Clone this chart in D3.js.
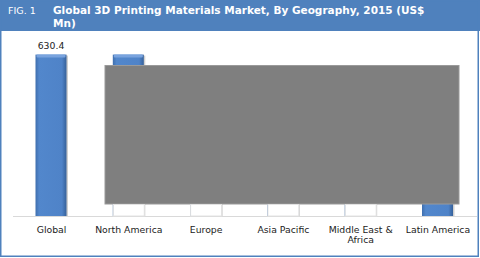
<!DOCTYPE html>
<html><head><meta charset="utf-8">
<script src="https://cdn.jsdelivr.net/npm/d3@7"></script>
<style>html,body{margin:0;padding:0;background:#fff;}svg{display:block;}</style>
</head><body>
<svg id="c" width="480" height="258"></svg>
<script>
const categories = ["Global","North America","Europe","Asia Pacific","Middle East & Africa","Latin America"];
const tickLabels = [["Global"],["North America"],["Europe"],["Asia Pacific"],["Middle East &","Africa"],["Latin America"]];
const values = [630.4, 630.4, 180, 150, 60, 70];
const valueLabels = ["630.4", null, null, null, null, null];
const masked = ["North America","Europe","Asia Pacific","Middle East & Africa"];
const titleLines = ["Global 3D Printing Materials Market, By Geography, 2015 (US$","Mn)"];
const figLabel = "FIG. 1";

const svg = d3.select("#c");
const W = 480, H = 258;
const blue = "#4f81bd";

const defs = svg.append("defs");
const g1 = defs.append("linearGradient").attr("id","barG").attr("x1","0").attr("x2","1").attr("y1","0").attr("y2","0");
g1.append("stop").attr("offset","0").attr("stop-color","#3f6fae");
g1.append("stop").attr("offset","0.12").attr("stop-color","#5287cc");
g1.append("stop").attr("offset","0.85").attr("stop-color","#4f83c8");
g1.append("stop").attr("offset","1").attr("stop-color","#36619a");

// header
svg.append("rect").attr("x",0).attr("y",0).attr("width",W).attr("height",31).attr("fill",blue);
svg.append("text").attr("x",8).attr("y",14).attr("fill","#fff")
  .style("font-family","DejaVu Sans").style("font-size","9.5px").text(figLabel);
const tt = svg.append("text").attr("fill","#fff")
  .style("font-family","DejaVu Sans").style("font-weight","bold").style("font-size","10.5px");
titleLines.forEach((l,i)=>tt.append("tspan").attr("x",53).attr("y",14+i*12.5).text(l));

// frame
svg.append("rect").attr("x",0.75).attr("y",0.75).attr("width",477.5).attr("height",255.5)
  .attr("fill","none").attr("stroke",blue).attr("stroke-width",1.5);

const x = d3.scalePoint().domain(categories).range([51, 437.5]);
const y = d3.scaleLinear().domain([0, 630.4]).range([216, 54.6]);
const bw = 31;

// baseline
svg.append("line").attr("x1",13).attr("x2",477).attr("y1",216.5).attr("y2",216.5).attr("stroke","#d9d9d9");

const bars = svg.append("g").selectAll("g").data(categories).join("g");
// shadow
bars.append("rect").attr("x",d=>x(d)-bw/2+1.5).attr("y",(d,i)=>y(values[i])+1)
  .attr("width",bw).attr("height",(d,i)=>y(0)-y(values[i])-1).attr("fill","#d0d0d0");
bars.append("rect").attr("x",d=>x(d)-bw/2).attr("y",(d,i)=>y(values[i]))
  .attr("width",bw).attr("height",(d,i)=>y(0)-y(values[i])).attr("fill","url(#barG)");
// top bevel
bars.append("rect").attr("x",d=>x(d)-bw/2+1).attr("y",(d,i)=>y(values[i]))
  .attr("width",bw-2).attr("height",3).attr("fill","#79a3de").attr("rx",1);

svg.append("g").selectAll("text").data(categories.filter((d,i)=>valueLabels[i]))
  .join("text").attr("x",d=>x(d)).attr("y",d=>y(values[categories.indexOf(d)])-6)
  .attr("text-anchor","middle").attr("fill","#222")
  .style("font-family","DejaVu Sans").style("font-size","9.3px")
  .text(d=>valueLabels[categories.indexOf(d)]);

// occluding box
const boxTop = 65.5, boxBottom = 204;
svg.append("rect").attr("x",105).attr("y",boxTop).attr("width",354).attr("height",boxBottom-boxTop)
  .attr("fill","#7f7f7f").attr("stroke","#9a9a9a").attr("stroke-width",1);
// erased bar remnants
svg.append("g").selectAll("rect").data(masked).join("rect")
  .attr("x",d=>x(d)-bw/2+0.5).attr("y",boxBottom+0.5).attr("width",bw).attr("height",216-boxBottom-0.5)
  .attr("fill","#fff").attr("stroke","#e2e2e2");

// axis labels
const ax = svg.append("g").attr("transform","translate(0,216)")
  .call(d3.axisBottom(x).tickSize(0).tickPadding(0).tickFormat(""));
ax.select(".domain").remove();
ax.selectAll(".tick").each(function(d){
  const t = d3.select(this).append("text").attr("fill","#222").attr("text-anchor","middle")
    .style("font-family","DejaVu Sans").style("font-size","9.3px");
  tickLabels[categories.indexOf(d)].forEach((l,i)=>t.append("tspan").attr("x",0).attr("y",16.5+i*10.5).text(l));
});
</script>
</body></html>
